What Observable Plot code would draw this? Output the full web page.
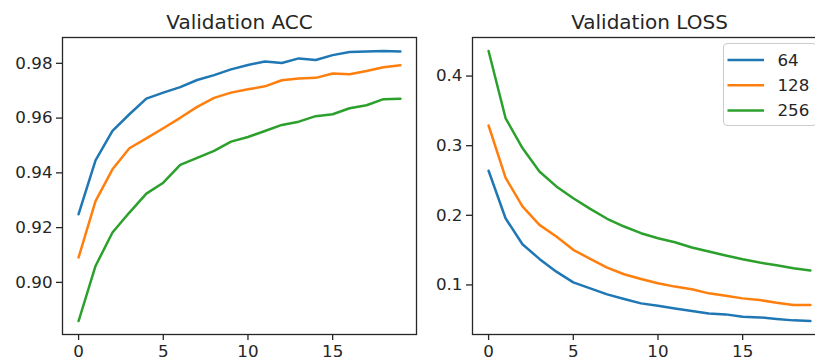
<!DOCTYPE html>
<html>
<head>
<meta charset="utf-8">
<script src="https://cdn.jsdelivr.net/npm/d3@7"></script>
<script src="https://cdn.jsdelivr.net/npm/@observablehq/plot@0.6"></script>
<style>
  html, body { margin: 0; padding: 0; background: #fff; overflow: hidden; }
  #wrap { width: 815px; height: 362px; overflow: hidden; position: relative; font-family: "DejaVu Sans", sans-serif; }
  .panel { position: absolute; top: 0; height: 362px; }
  .panel svg { max-width: none !important; }
  #legend { position: absolute; left: 723px; top: 43px; width: 94px; height: 83px; box-sizing: border-box;
            border: 1px solid #cccccc; border-radius: 4px; background: rgba(255,255,255,0.8); }
</style>
</head>
<body>
<div id="wrap">
  <div id="left" class="panel" style="left:0px; width:430px"></div>
  <div id="right" class="panel" style="left:410px; width:420px"></div>
  <div id="legend"></div>
</div>
<script>
const epochs = d3.range(0, 20);
const seriesNames = ["64", "128", "256"];
const seriesColors = ["#1f77b4", "#ff7f0e", "#2ca02c"];

const acc64  = [0.9249, 0.9446, 0.9553, 0.9614, 0.9671, 0.9693, 0.9713, 0.9739, 0.9757, 0.9778,
                0.9794, 0.9807, 0.9801, 0.9818, 0.9812, 0.9830, 0.9841, 0.9843, 0.9845, 0.9843];
const acc128 = [0.9091, 0.9297, 0.9413, 0.9490, 0.9526, 0.9563, 0.9601, 0.9641, 0.9674, 0.9693,
                0.9705, 0.9716, 0.9738, 0.9745, 0.9747, 0.9763, 0.9760, 0.9772, 0.9786, 0.9793];
const acc256 = [0.8859, 0.9060, 0.9182, 0.9255, 0.9324, 0.9364, 0.9429, 0.9455, 0.9480, 0.9514,
                0.9531, 0.9553, 0.9575, 0.9587, 0.9607, 0.9614, 0.9636, 0.9647, 0.9669, 0.9671];

const loss64  = [0.2640, 0.1958, 0.1584, 0.1374, 0.1191, 0.1037, 0.0951, 0.0865, 0.0799, 0.0735,
                 0.0702, 0.0663, 0.0626, 0.0591, 0.0577, 0.0544, 0.0534, 0.0511, 0.0491, 0.0482];
const loss128 = [0.3290, 0.2540, 0.2127, 0.1863, 0.1695, 0.1504, 0.1374, 0.1249, 0.1153, 0.1086,
                 0.1023, 0.0976, 0.0937, 0.0879, 0.0846, 0.0807, 0.0784, 0.0745, 0.0712, 0.0712];
const loss256 = [0.4360, 0.3397, 0.2966, 0.2630, 0.2415, 0.2246, 0.2093, 0.1950, 0.1839, 0.1743,
                 0.1671, 0.1613, 0.1537, 0.1479, 0.1422, 0.1368, 0.1321, 0.1282, 0.1239, 0.1206];

const xTicks = [0, 5, 10, 15];
const accTicks = [0.90, 0.92, 0.94, 0.96, 0.98];
const lossTicks = [0.1, 0.2, 0.3, 0.4];

function tidy(arrs) {
  const rows = [];
  arrs.forEach((arr, si) => arr.forEach((v, i) => rows.push({epoch: epochs[i], value: v, series: seriesNames[si]})));
  return rows;
}
const accData = tidy([acc64, acc128, acc256]);
const lossData = tidy([loss64, loss128, loss256]);

function pad(lo, hi) { const m = (hi - lo) * 0.05; return [lo - m, hi + m]; }
const xDomain = pad(d3.min(epochs), d3.max(epochs));

function panel(data, title, yTicks, yFmt, opts) {
  const yDomain = pad(d3.min(data, d => d.value), d3.max(data, d => d.value));
  return Plot.plot({
    width: opts.width, height: 362,
    marginLeft: opts.marginLeft, marginRight: opts.marginRight, marginTop: 37, marginBottom: 28,
    style: {fontFamily: "DejaVu Sans, sans-serif", fontSize: "16.7px", color: "#262626", background: "transparent", overflow: "visible", maxWidth: "none"},
    x: {domain: xDomain, label: null},
    y: {domain: yDomain, label: null},
    color: {domain: seriesNames, range: seriesColors},
    marks: [
      Plot.line(data, {x: "epoch", y: "value", z: "series", stroke: "series", strokeWidth: 2.5}),
      Plot.frame({stroke: "#262626", strokeWidth: 1.3}),
      Plot.axisX({ticks: xTicks, tickFormat: d3.format("d"), tickSize: 6, tickPadding: 5, label: null, strokeWidth: 1.3}),
      Plot.axisY({ticks: yTicks, tickFormat: d3.format(yFmt), tickSize: 6, tickPadding: 4, label: null, strokeWidth: 1.3}),
      Plot.text([title], {frameAnchor: "top", lineAnchor: "bottom", dy: -9, fontSize: 20, fill: "#262626"})
    ]
  });
}

document.getElementById("left").append(
  panel(accData, "Validation ACC", accTicks, ".2f", {width: 430, marginLeft: 62, marginRight: 14}));
document.getElementById("right").append(
  panel(lossData, "Validation LOSS", lossTicks, ".1f", {width: 420, marginLeft: 62, marginRight: 4}));

// legend
const lg = d3.select("#legend").append("svg").attr("width", 94).attr("height", 83)
  .style("position", "absolute").style("left", "-1px").style("top", "-1px");
const rows = lg.selectAll("g").data(seriesNames).join("g")
  .attr("transform", (d, i) => `translate(0, ${17 + i * 25.3})`);
rows.append("line").attr("x1", 4.5).attr("x2", 41).attr("y1", 0).attr("y2", 0)
  .attr("stroke", (d, i) => seriesColors[i]).attr("stroke-width", 2.5);
rows.append("text").attr("x", 54.5).attr("y", 0).attr("dy", "0.35em")
  .attr("font-family", "DejaVu Sans, sans-serif").attr("font-size", 16.7).attr("fill", "#262626")
  .text(d => d);
</script>
</body>
</html>
